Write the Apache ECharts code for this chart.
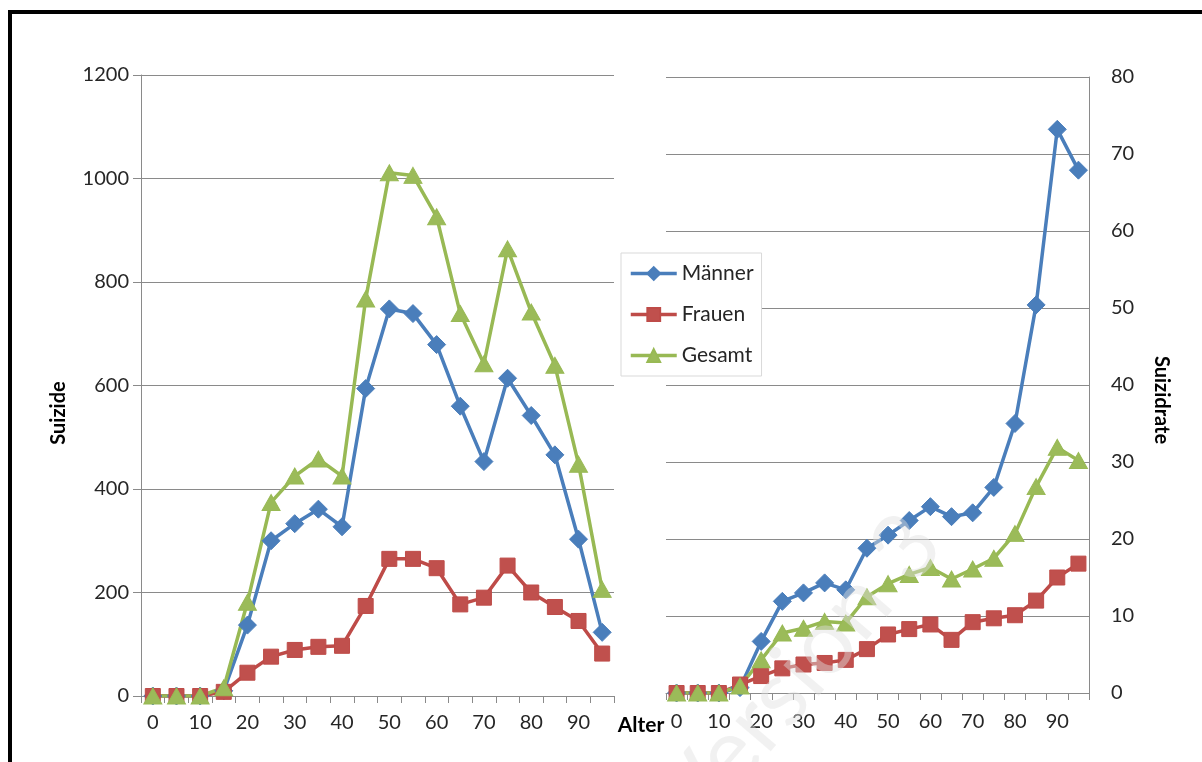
<!DOCTYPE html>
<html>
<head>
<meta charset="utf-8">
<script src="https://cdn.jsdelivr.net/npm/echarts@6/dist/echarts.min.js"></script>
<style>
html,body{margin:0;padding:0;background:#fff;}
#chart{width:1202px;height:762px;}
</style>
</head>
<body>
<div id="chart"></div>
<script>
// ---- data ----
const ages = ['0','5','10','15','20','25','30','35','40','45','50','55','60','65','70','75','80','85','90','95'];
const seriesNames = ['Männer','Frauen','Gesamt'];
// Suizide (absolute)
const maenner = [0,0,0,10,137,300,333,361,327,594,748,739,679,560,453,614,542,466,303,123];
const frauen  = [0,0,0,8,45,76,89,95,97,174,265,265,247,177,190,252,200,172,145,82];
const gesamt  = [0,0,0,16,181,374,425,458,425,767,1011,1006,926,739,642,864,742,639,448,206];
// Suizidrate
const maennerRate = [0,0,0,0.7,6.7,11.9,13.0,14.3,13.4,18.8,20.5,22.4,24.2,22.9,23.4,26.7,35.0,50.4,73.2,67.9];
const frauenRate  = [0,0,0,1.1,2.2,3.2,3.7,3.9,4.3,5.7,7.6,8.3,8.9,6.9,9.2,9.7,10.1,12.0,15.0,16.8];
const gesamtRate  = [0,0,0,0.9,4.3,7.8,8.4,9.3,9.1,12.5,14.2,15.4,16.3,14.8,16.1,17.5,20.7,26.8,31.9,30.2];
// axis ticks
const leftTicks = {min:0, max:1200, interval:200};
const rightTicks = {min:0, max:80, interval:10};
const labels = {yLeft:'Suizide', yRight:'Suizidrate', x:'Alter', watermark:'Version 3'};

// ---- styling ----
const FONT = 'Lato, "Open Sans", sans-serif';
const GRID_C = '#8a8a8a';
const TXT = '#262626';
const colors = {
  'Männer': {line:'#4A7EBB', fill:'#4A7EBB', symbol:'diamond', size:[18,18]},
  'Frauen': {line:'#BE4B48', fill:'#C0504D', symbol:'rect', size:[15,15]},
  'Gesamt': {line:'#98B954', fill:'#9BBB59', symbol:'triangle', size:[18,16]}
};

function mkSeries(name, data, idx) {
  const c = colors[name];
  return {
    name: name, type: 'line', xAxisIndex: idx, yAxisIndex: idx,
    data: data, symbol: c.symbol, symbolSize: c.size, showSymbol: true, showAllSymbol: true,
    lineStyle: {color: c.line, width: 3.5},
    itemStyle: {color: c.fill, borderColor: c.line, borderWidth: 1},
    animation: false
  };
}

const chart = echarts.init(document.getElementById('chart'), null, {renderer:'canvas'});
const noSep = v => String(v);
const option = {
  backgroundColor: '#fff',
  animation: false,
  legend: {
    orient: 'vertical', left: 621, top: 253,
    data: seriesNames,
    backgroundColor: '#fff', borderColor: '#d9d9d9', borderWidth: 1,
    padding: [10, 8, 10, 8], itemGap: 20, itemWidth: 46, itemHeight: 16,
    lineStyle: {width: 3.5},
    textStyle: {fontFamily: FONT, fontSize: 21, color: TXT}
  },
  grid: [
    {left: 141, right: 588, top: 75, bottom: 66},
    {left: 666, right: 113, top: 77, bottom: 69}
  ],
  xAxis: [
    {type:'category', gridIndex:0, data: ages, boundaryGap: true,
     axisLine:{lineStyle:{color:GRID_C}}, axisTick:{show:true, interval:0, length:7, lineStyle:{color:GRID_C}},
     axisLabel:{interval:1, margin:17, fontFamily:FONT, fontSize:20, color:TXT}},
    {type:'category', gridIndex:1, data: ages, boundaryGap: true,
     axisLine:{lineStyle:{color:GRID_C}}, axisTick:{show:true, interval:0, length:7, lineStyle:{color:GRID_C}},
     axisLabel:{interval:1, margin:19, fontFamily:FONT, fontSize:20, color:TXT}}
  ],
  yAxis: [
    {type:'value', gridIndex:0, min:leftTicks.min, max:leftTicks.max, interval:leftTicks.interval,
     axisLine:{show:true, lineStyle:{color:GRID_C}}, axisTick:{show:true, length:8, lineStyle:{color:GRID_C}},
     splitLine:{lineStyle:{color:GRID_C, width:1}},
     axisLabel:{margin:12, fontFamily:FONT, fontSize:20, color:TXT, formatter: noSep}},
    {type:'value', gridIndex:1, position:'right', min:rightTicks.min, max:rightTicks.max, interval:rightTicks.interval,
     axisLine:{show:true, lineStyle:{color:GRID_C}}, axisTick:{show:false},
     splitLine:{lineStyle:{color:GRID_C, width:1}},
     axisLabel:{margin:22, fontFamily:FONT, fontSize:20, color:TXT, formatter: noSep}}
  ],
  series: [
    mkSeries('Männer', maenner, 0),
    mkSeries('Frauen', frauen, 0),
    mkSeries('Gesamt', gesamt, 0),
    mkSeries('Männer', maennerRate, 1),
    mkSeries('Frauen', frauenRate, 1),
    mkSeries('Gesamt', gesamtRate, 1)
  ],
  graphic: [
    {type:'text', x: 59, y: 413, rotation: Math.PI/2,
     style:{text: labels.yLeft, font: 'bold 20px ' + FONT, fill: '#000', align:'center', verticalAlign:'middle'}},
    {type:'text', x: 1161, y: 400, rotation: -Math.PI/2,
     style:{text: labels.yRight, font: 'bold 20px ' + FONT, fill: '#000', align:'center', verticalAlign:'middle'}},
    {type:'text', x: 641, y: 725,
     style:{text: labels.x, font: 'bold 21px ' + FONT, fill: '#000', align:'center', verticalAlign:'middle'}},
    {type:'text', x: 800, y: 672, rotation: 0.86, z: 100,
     style:{text: labels.watermark, font: '92px ' + FONT, fill: 'rgba(225,225,225,0.45)', align:'center', verticalAlign:'middle'}},
    {type:'rect', z: 101, shape:{x:10, y:12, width:1260, height:820},
     style:{fill:'none', stroke:'#000', lineWidth:4}}
  ]
};
chart.setOption(option);
</script>
</body>
</html>
